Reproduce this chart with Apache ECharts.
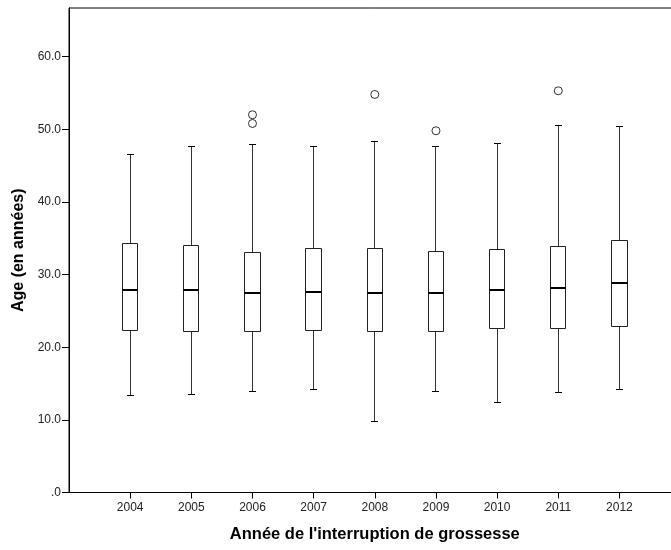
<!DOCTYPE html>
<html>
<head>
<meta charset="utf-8">
<script src="https://cdn.jsdelivr.net/npm/echarts@6/dist/echarts.min.js"></script>
<style>
  html, body { margin: 0; padding: 0; background: #ffffff; }
  #chart { width: 671px; height: 550px; }
</style>
</head>
<body>
<div id="chart"></div>
<script>
// ---- Data ----
const years   = ['2004', '2005', '2006', '2007', '2008', '2009', '2010', '2011', '2012'];
const lowers  = [13.4, 13.5, 13.9, 14.2,  9.8, 13.9, 12.4, 13.8, 14.2];
const q1s     = [22.3, 22.1, 22.1, 22.3, 22.2, 22.2, 22.6, 22.6, 22.8];
const medians = [27.9, 27.9, 27.4, 27.6, 27.5, 27.4, 27.9, 28.1, 28.9];
const q3s     = [34.3, 34.0, 33.1, 33.6, 33.6, 33.2, 33.5, 33.9, 34.7];
const uppers  = [46.6, 47.6, 47.9, 47.7, 48.3, 47.6, 48.1, 50.5, 50.4];
const outlierYears  = ['2006', '2006', '2008', '2009', '2011'];
const outlierValues = [52.0, 50.8, 54.8, 49.8, 55.3];
const yTicks = [0, 10, 20, 30, 40, 50, 60];
const yMax = 66.7;
const xTitle = "Année de l'interruption de grossesse";
const yTitle = 'Age (en années)';

// axis categories: one empty slot before and after the years
const categories = [' '].concat(years, ['  ']);
const boxData = years.map((y, i) => [y, lowers[i], q1s[i], medians[i], q3s[i], uppers[i]]);
const outlierData = outlierYears.map((y, i) => [y, outlierValues[i]]);

const FONT = 'Arial, "Liberation Sans", sans-serif';
const chart = echarts.init(document.getElementById('chart'), null, { renderer: 'canvas' });

function crisp(v) { return Math.round(v - 0.5) + 0.5; }

chart.setOption({
  backgroundColor: '#ffffff',
  animation: false,
  grid: {
    left: 69, top: 8, width: 611.6, bottom: 57.5,
    outerBoundsMode: 'none',
    containLabel: false,
    show: true, borderColor: '#000', borderWidth: 1, backgroundColor: 'transparent'
  },
  xAxis: {
    type: 'category',
    data: categories,
    boundaryGap: false,
    name: xTitle,
    nameLocation: 'middle',
    nameGap: 33,
    nameTextStyle: { fontFamily: FONT, fontSize: 16.5, fontWeight: 'bold', color: '#000' },
    axisLine: { lineStyle: { color: '#000', width: 1 } },
    axisTick: { show: true, length: 6, lineStyle: { color: '#000' },
      interval: (idx, val) => String(val).trim() !== '' },
    axisLabel: { fontFamily: FONT, fontSize: 12, color: '#222', margin: 9 },
    splitLine: { show: false }
  },
  yAxis: {
    type: 'value',
    min: 0,
    max: yMax,
    interval: 10,
    name: yTitle,
    nameLocation: 'middle',
    nameGap: 40,
    nameTextStyle: { fontFamily: FONT, fontSize: 16, fontWeight: 'bold', color: '#000' },
    axisLine: { show: true, lineStyle: { color: '#000', width: 1 } },
    axisTick: { show: true, length: 7, lineStyle: { color: '#000' }, customValues: yTicks },
    axisLabel: { fontFamily: FONT, fontSize: 12, color: '#222', margin: 8,
      customValues: yTicks,
      formatter: v => (v === 0 ? '.0' : v.toFixed(1)) },
    splitLine: { show: false }
  },
  series: [
    {
      type: 'custom',
      name: 'box',
      data: boxData,
      encode: { x: 0, y: [1, 2, 3, 4, 5] },
      renderItem: function (params, api) {
        const xv = api.value(0);
        const band = api.size([1, 0])[0];
        const half = band * 0.125;
        const capHalf = band * 0.06;
        const pLow = api.coord([xv, api.value(1)]);
        const pQ1  = api.coord([xv, api.value(2)]);
        const pMed = api.coord([xv, api.value(3)]);
        const pQ3  = api.coord([xv, api.value(4)]);
        const pUp  = api.coord([xv, api.value(5)]);
        const cx = crisp(pLow[0]);
        const yLow = crisp(pLow[1]), yQ1 = crisp(pQ1[1]), yQ3 = crisp(pQ3[1]), yUp = crisp(pUp[1]);
        const yMed = Math.round(pMed[1]);
        const xl = crisp(pLow[0] - half), xr = crisp(pLow[0] + half);
        const whisk = { stroke: '#333', lineWidth: 1 };
        return {
          type: 'group',
          children: [
            { type: 'line', shape: { x1: cx, y1: yQ3, x2: cx, y2: yUp }, style: whisk },
            { type: 'line', shape: { x1: cx, y1: yQ1, x2: cx, y2: yLow }, style: whisk },
            { type: 'line', shape: { x1: Math.round(cx - capHalf), y1: yUp, x2: Math.round(cx + capHalf), y2: yUp }, style: { stroke: '#000', lineWidth: 1 } },
            { type: 'line', shape: { x1: Math.round(cx - capHalf), y1: yLow, x2: Math.round(cx + capHalf), y2: yLow }, style: { stroke: '#000', lineWidth: 1 } },
            { type: 'rect', shape: { x: xl, y: yQ3, width: xr - xl, height: yQ1 - yQ3 },
              style: { fill: '#ffffff', stroke: '#222', lineWidth: 1 } },
            { type: 'line', shape: { x1: xl, y1: yMed, x2: xr, y2: yMed },
              style: { stroke: '#000', lineWidth: 2 } }
          ]
        };
      },
      z: 2
    },
    {
      type: 'scatter',
      name: 'outliers',
      data: outlierData,
      symbol: 'circle',
      symbolSize: 8,
      itemStyle: { color: '#ffffff', borderColor: '#000', borderWidth: 1 },
      z: 3
    }
  ]
});
</script>
</body>
</html>
